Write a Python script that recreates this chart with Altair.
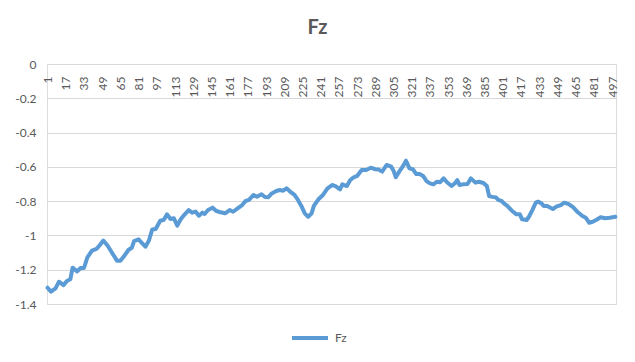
import altair as alt
import pandas as pd

# sample index (category number) and Fz value
idx = [1, 4, 8, 11, 15, 18, 21, 23, 27, 30, 33, 36, 40, 44, 47, 50, 54, 58, 62, 65,
       69, 72, 75, 77, 81, 83, 87, 90, 93, 96, 100, 103, 106, 109, 112, 115, 118, 121, 125, 128,
       131, 134, 137, 139, 142, 146, 149, 153, 157, 161, 164, 168, 172, 175, 178, 182, 185, 189, 192, 195,
       198, 202, 205, 208, 211, 215, 218, 221, 224, 227, 230, 233, 235, 239, 243, 247, 251, 254, 258, 260,
       264, 267, 270, 273, 277, 281, 285, 289, 292, 295, 299, 303, 305, 307, 310, 313, 316, 319, 322, 325,
       328, 331, 334, 337, 340, 343, 346, 349, 352, 356, 359, 361, 363, 366, 370, 373, 377, 380, 384, 387,
       389, 392, 395, 397, 400, 402, 405, 409, 413, 416, 418, 422, 424, 427, 430, 432, 435, 437, 440, 445,
       448, 452, 455, 459, 463, 467, 471, 474, 477, 480, 483, 487, 491, 495, 500]
fz = [-1.305, -1.328, -1.309, -1.27, -1.29, -1.266, -1.256, -1.188, -1.21, -1.19,
      -1.19, -1.128, -1.089, -1.079, -1.056, -1.03, -1.062, -1.105, -1.147, -1.147,
      -1.114, -1.085, -1.072, -1.033, -1.023, -1.037, -1.066, -1.031, -0.965, -0.962,
      -0.914, -0.91, -0.877, -0.904, -0.90, -0.943, -0.906, -0.881, -0.852, -0.867,
      -0.861, -0.885, -0.867, -0.875, -0.852, -0.838, -0.856, -0.865, -0.871, -0.852,
      -0.862, -0.842, -0.823, -0.799, -0.793, -0.764, -0.774, -0.760, -0.776, -0.777,
      -0.755, -0.741, -0.735, -0.739, -0.725, -0.749, -0.764, -0.793, -0.828, -0.871,
      -0.891, -0.871, -0.828, -0.789, -0.764, -0.725, -0.706, -0.712, -0.731, -0.702,
      -0.712, -0.677, -0.661, -0.653, -0.618, -0.618, -0.605, -0.614, -0.616, -0.628,
      -0.589, -0.599, -0.622, -0.661, -0.628, -0.599, -0.564, -0.609, -0.614, -0.642,
      -0.642, -0.653, -0.683, -0.696, -0.702, -0.687, -0.690, -0.667, -0.690, -0.712,
      -0.696, -0.677, -0.706, -0.702, -0.700, -0.667, -0.692, -0.687, -0.694, -0.712,
      -0.770, -0.775, -0.778, -0.793, -0.799, -0.813, -0.828, -0.856, -0.877, -0.877,
      -0.906, -0.910, -0.891, -0.852, -0.809, -0.803, -0.813, -0.828, -0.828, -0.846,
      -0.832, -0.823, -0.809, -0.817, -0.836, -0.865, -0.887, -0.897, -0.926, -0.920,
      -0.910, -0.894, -0.900, -0.897, -0.891]
series_name = "Fz"
x_tick_labels = list(range(1, 498, 16))
y_tick_values = [0, -0.2, -0.4, -0.6, -0.8, -1.0, -1.2, -1.4]

df = pd.DataFrame({"idx": idx, "fz": fz, "series": [series_name] * len(idx)})

FONT = "Lato"
GREY = "#595959"
BLUE = "#5B9BD5"

chart = alt.Chart(df).mark_line(
    strokeWidth=4, strokeJoin="round", strokeCap="round"
).encode(
    x=alt.X("idx:Q",
            scale=alt.Scale(domain=[0.5, 500.5], nice=False, zero=False),
            axis=alt.Axis(orient="top", values=x_tick_labels, labelAngle=270,
                          labelAlign="right", labelBaseline="middle",
                          labelPadding=-12, ticks=False, domain=False, grid=False,
                          title=None, labelFontSize=12, labelColor=GREY, labelFont=FONT,
                          labelOverlap=False, labelFlush=False)),
    y=alt.Y("fz:Q",
            scale=alt.Scale(domain=[-1.4, 0], nice=False, zero=False),
            axis=alt.Axis(values=y_tick_values, labelExpr="'' + datum.value",
                          ticks=False, domain=False, grid=True, gridColor="#d9d9d9",
                          gridWidth=1, title=None, labelFontSize=12, labelColor=GREY,
                          labelFont=FONT, labelPadding=11)),
    color=alt.Color("series:N",
                    scale=alt.Scale(range=[BLUE]),
                    legend=alt.Legend(orient="none", legendX=243, legendY=254,
                                      symbolType="stroke", symbolStrokeWidth=4,
                                      symbolStrokeColor=BLUE,
                                      symbolSize=1296, title=None, labelFontSize=12,
                                      labelColor=GREY, labelFont=FONT, labelOffset=5,
                                      direction="horizontal")),
).properties(
    width=569,
    height=240,
    title=alt.TitleParams(series_name, fontSize=20, fontWeight="bold", color=GREY,
                          font=FONT, anchor="middle", dx=-14, offset=20),
    autosize=alt.AutoSizeParams(type="none"),
    padding={"left": 39, "top": 56, "right": 11, "bottom": 42},
).configure_view(stroke=None).configure(background="white")

chart.save("out.html", embed_options={"renderer": "svg", "actions": False})
